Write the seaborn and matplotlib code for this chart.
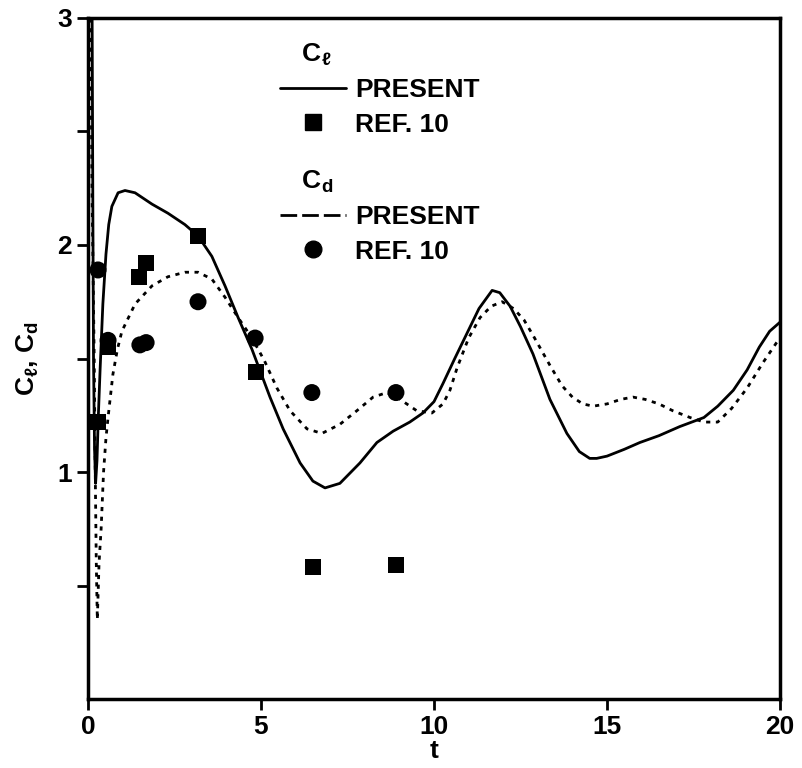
import numpy as np
import pandas as pd
import matplotlib
matplotlib.use('Agg')
import matplotlib.pyplot as plt
from matplotlib.lines import Line2D
import seaborn as sns

# --- values ---
# lift coefficient, present computation
t_cl = [0.05, 0.12, 0.14, 0.16, 0.19, 0.22, 0.26, 0.30, 0.35, 0.43, 0.52, 0.60,
        0.69, 0.87, 1.07, 1.36, 1.85, 2.31, 2.80, 3.18, 3.58, 3.96, 4.34, 4.74,
        5.26, 5.64, 6.13, 6.50, 6.85, 7.28, 7.86, 8.35, 8.82, 9.30, 9.68, 10.00,
        10.26, 10.60, 10.95, 11.30, 11.68, 11.90, 12.20, 12.50, 12.86, 13.35, 13.84,
        14.20, 14.50, 14.70, 15.00, 15.50, 15.95, 16.50, 17.10, 17.80, 18.20,
        18.65, 19.05, 19.40, 19.70, 20.00]
cl_present = [3.50, 3.00, 2.20, 1.50, 1.10, 0.95, 1.05, 1.25, 1.45, 1.74, 1.96, 2.09,
              2.17, 2.23, 2.24, 2.23, 2.18, 2.14, 2.09, 2.04, 1.95, 1.82, 1.68, 1.54,
              1.33, 1.19, 1.04, 0.96, 0.93, 0.95, 1.04, 1.13, 1.18, 1.22, 1.26, 1.31,
              1.39, 1.50, 1.61, 1.72, 1.80, 1.79, 1.73, 1.64, 1.52, 1.32, 1.17,
              1.09, 1.06, 1.06, 1.07, 1.10, 1.13, 1.16, 1.20, 1.24, 1.29,
              1.36, 1.45, 1.55, 1.62, 1.66]

# drag coefficient, present computation
t_cd = [0.06, 0.12, 0.18, 0.21, 0.24, 0.27, 0.32, 0.38, 0.45, 0.52, 0.58, 0.72,
        0.85, 0.98, 1.36, 1.85, 2.31, 2.80, 3.18, 3.58, 3.96, 4.34, 4.74, 5.10,
        5.46, 5.84, 6.33, 6.76, 7.28, 7.77, 8.24, 8.64, 9.02, 9.50, 9.94, 10.26,
        10.46, 10.67, 11.00, 11.33, 11.65, 11.97, 12.30, 12.60, 12.87, 13.35,
        13.70, 14.00, 14.30, 14.60, 15.00, 15.40, 15.75, 16.10, 16.50, 16.90,
        17.40, 17.80, 18.20, 18.60, 19.05, 19.50, 19.90, 20.00]
cd_present = [3.20, 2.20, 1.50, 1.00, 0.60, 0.35, 0.60, 0.75, 1.00, 1.15, 1.24, 1.43,
              1.54, 1.62, 1.74, 1.82, 1.86, 1.88, 1.88, 1.85, 1.77, 1.68, 1.59, 1.49,
              1.37, 1.27, 1.19, 1.17, 1.21, 1.27, 1.33, 1.35, 1.32, 1.27, 1.26, 1.30,
              1.36, 1.46, 1.59, 1.68, 1.73, 1.75, 1.72, 1.67, 1.60, 1.47,
              1.38, 1.33, 1.30, 1.29, 1.30, 1.32, 1.33, 1.32, 1.30, 1.27,
              1.24, 1.22, 1.22, 1.28, 1.37, 1.48, 1.57, 1.59]

# Ref. 10 points
t_cl_ref = [0.29, 0.58, 1.47, 1.68, 3.18, 4.86, 6.50, 8.90]
cl_ref = [1.22, 1.55, 1.86, 1.92, 2.04, 1.44, 0.58, 0.59]
t_cd_ref = [0.29, 0.58, 1.50, 1.68, 3.18, 4.83, 6.47, 8.90]
cd_ref = [1.89, 1.58, 1.56, 1.57, 1.75, 1.59, 1.35, 1.35]

df_cl = pd.DataFrame({'t': t_cl, 'c': cl_present})
df_cd = pd.DataFrame({'t': t_cd, 'c': cd_present})
ref_cl = pd.DataFrame({'t': t_cl_ref, 'c': cl_ref})
ref_cd = pd.DataFrame({'t': t_cd_ref, 'c': cd_ref})

sns.set_style('ticks')
plt.rcParams['font.family'] = ['Liberation Sans', 'DejaVu Sans']
plt.rcParams['font.weight'] = 'bold'
plt.rcParams['text.color'] = 'black'
plt.rcParams['axes.labelcolor'] = 'black'
plt.rcParams['xtick.color'] = 'black'
plt.rcParams['ytick.color'] = 'black'
plt.rcParams['axes.edgecolor'] = 'black'
plt.rcParams['mathtext.fontset'] = 'custom'
plt.rcParams['mathtext.rm'] = 'Liberation Sans:bold'
plt.rcParams['mathtext.it'] = 'Liberation Sans:bold'
plt.rcParams['mathtext.bf'] = 'Liberation Sans:bold'

fig = plt.figure(figsize=(8.02, 7.68), dpi=100)
ax = fig.add_axes([0.1097, 0.0898, 0.8629, 0.8868])

sns.lineplot(data=df_cl, x='t', y='c', ax=ax, color='black', lw=2,
             estimator=None, sort=False)
sns.lineplot(data=df_cd, x='t', y='c', ax=ax, color='black', lw=2,
             estimator=None, sort=False)
ax.lines[-1].set_dashes((1.5, 2))
sns.scatterplot(data=ref_cl, x='t', y='c', ax=ax, marker='s', color='black',
                s=130, edgecolor='none', zorder=3)
sns.scatterplot(data=ref_cd, x='t', y='c', ax=ax, marker='o', color='black',
                s=150, edgecolor='none', zorder=3)

ax.set_xlim(0, 20)
ax.set_ylim(0, 3)
ax.set_xticks([0, 5, 10, 15, 20])
ax.set_yticks([1, 2, 3])
ax.set_yticks([0.5, 1.5, 2.5], minor=True)
ax.tick_params(axis='both', which='both', direction='out', length=8, width=2,
               labelsize=19)
for sp in ax.spines.values():
    sp.set_linewidth(2.5)
    sp.set_visible(True)

ax.set_xlabel('t', fontsize=19, fontweight='bold', labelpad=0)
ax.set_ylabel(r'$C_\ell$, $C_d$', fontsize=19, fontweight='bold', labelpad=12)

h1 = [Line2D([], [], color='black', lw=2),
      Line2D([], [], color='black', marker='s', ls='none', ms=11)]
leg1 = ax.legend(h1, ['PRESENT', 'REF. 10'], title=r'   $C_\ell$', frameon=False,
                 loc='upper left', bbox_to_anchor=(0.243, 1.0006), fontsize=19,
                 title_fontsize=19, handlelength=2.5, handletextpad=0.35,
                 labelspacing=0.4, alignment='left')
ax.add_artist(leg1)
h2 = [Line2D([], [], color='black', lw=2, dashes=(6, 1.8)),
      Line2D([], [], color='black', marker='o', ls='none', ms=12)]
leg2 = ax.legend(h2, ['PRESENT', 'REF. 10'], title=r'   $C_d$', frameon=False,
                 loc='upper left', bbox_to_anchor=(0.243, 0.814), fontsize=19,
                 title_fontsize=19, handlelength=2.5, handletextpad=0.35,
                 labelspacing=0.4, alignment='left')

fig.savefig('out.png', dpi=100)
